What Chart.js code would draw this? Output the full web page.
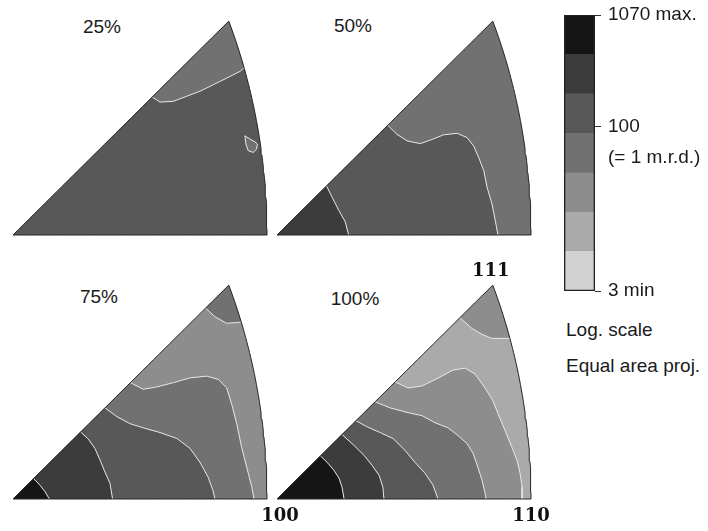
<!DOCTYPE html>
<html>
<head>
<meta charset="utf-8">
<script src="https://cdn.jsdelivr.net/npm/chart.js@4.4.1/dist/chart.umd.min.js"></script>
<style>
  html, body { margin: 0; padding: 0; background: #fff; }
  #fig { position: relative; width: 708px; height: 531px; overflow: hidden; background: #fff;
         font-family: "Liberation Sans", Arial, sans-serif; color: #1a1a1a; }
  #fig canvas { position: absolute; }
  .txt { position: absolute; font-size: 19px; line-height: 1; white-space: nowrap; transform: translateY(-50%); }
  .title { transform: translate(-50%, -50%); }
</style>
</head>
<body>
<div id="fig">
  <div class="txt title" style="left:102px; top:26px;">25%</div>
  <div class="txt title" style="left:353px; top:25px;">50%</div>
  <div class="txt title" style="left:99px; top:296px;">75%</div>
  <div class="txt title" style="left:355px; top:298px;">100%</div>
  <div class="txt" style="left:566px; top:329px;">Log. scale</div>
  <div class="txt" style="left:566px; top:365px;">Equal area proj.</div>
</div>
<script>
// ---- density scale (multiples of random, x100) ----
const levelColors = ['#d2d2d2', '#aaaaaa', '#8d8d8d', '#717171', '#585858', '#3c3c3c', '#151515'];
const levelBounds = [3, 7, 16, 37, 86, 200, 462, 1070];
const scaleTicks = [3, 100, 1070];

// ---- pole labels of the standard triangle ----
const poleNames = ['100', '110', '111'];
const poleDirections = [[1, 0, 0], [1, 1, 0], [1, 1, 1]];

// ---- contour lines, equal-area coordinates (110 pole at x = 1) ----
// 25 % deformation
const c25Top = [[0.548, 0.548], [0.579, 0.528], [0.631, 0.531], [0.684, 0.551], [0.736, 0.571],
                [0.789, 0.597], [0.841, 0.623], [0.894, 0.650], [0.910, 0.664]];
const c25Island = [[0.913, 0.394], [0.933, 0.381], [0.953, 0.370], [0.962, 0.361],
                   [0.959, 0.341], [0.946, 0.328], [0.926, 0.335], [0.917, 0.361]];
// 50 % deformation
const c50A = [[0.195, 0.195], [0.217, 0.150], [0.243, 0.098], [0.269, 0.052], [0.282, 0]];
const c50B = [[0.436, 0.436], [0.472, 0.400], [0.512, 0.374], [0.564, 0.363], [0.604, 0.377],
              [0.656, 0.398], [0.709, 0.404], [0.748, 0.387], [0.774, 0.354], [0.794, 0.308],
              [0.814, 0.256], [0.827, 0.190], [0.846, 0.125], [0.859, 0.059], [0.870, 0]];
// 75 % deformation
const c75A = [[0.081, 0.081], [0.106, 0.055], [0.126, 0.029], [0.143, 0]];
const c75B = [[0.266, 0.266], [0.296, 0.239], [0.323, 0.200], [0.343, 0.154], [0.362, 0.107],
              [0.382, 0.062], [0.392, 0]];
const c75C = [[0.362, 0.362], [0.409, 0.327], [0.461, 0.299], [0.512, 0.283], [0.579, 0.264],
              [0.646, 0.240], [0.697, 0.201], [0.736, 0.146], [0.768, 0.087], [0.787, 0.035], [0.795, 0]];
const c75D = [[0.462, 0.462], [0.513, 0.436], [0.566, 0.445], [0.631, 0.462], [0.697, 0.481],
              [0.763, 0.488], [0.808, 0.475], [0.841, 0.442], [0.861, 0.377], [0.881, 0.298],
              [0.900, 0.206], [0.920, 0.127], [0.940, 0.048], [0.949, 0]];
const c75Top = [[0.758, 0.758], [0.795, 0.724], [0.841, 0.698], [0.870, 0.700], [0.896, 0.702]];
// 100 % deformation
const c100A = [[0.171, 0.171], [0.197, 0.146], [0.224, 0.114], [0.244, 0.083], [0.256, 0.047], [0.264, 0]];
const c100B = [[0.256, 0.256], [0.303, 0.213], [0.343, 0.173], [0.374, 0.134], [0.402, 0.094],
               [0.417, 0.047], [0.421, 0]];
const c100C = [[0.311, 0.311], [0.354, 0.287], [0.406, 0.264], [0.457, 0.240], [0.504, 0.193],
               [0.543, 0.146], [0.583, 0.102], [0.614, 0.055], [0.634, 0]];
const c100D = [[0.386, 0.386], [0.445, 0.362], [0.516, 0.343], [0.571, 0.331], [0.622, 0.303],
               [0.673, 0.283], [0.713, 0.252], [0.748, 0.220], [0.772, 0.181], [0.791, 0.126],
               [0.807, 0.075], [0.819, 0.024], [0.823, 0]];
const c100E = [[0.465, 0.465], [0.516, 0.441], [0.571, 0.449], [0.634, 0.480], [0.693, 0.512],
               [0.740, 0.520], [0.780, 0.496], [0.819, 0.441], [0.850, 0.390], [0.870, 0.339],
               [0.898, 0.272], [0.925, 0.205], [0.945, 0.154], [0.957, 0.102], [0.965, 0.047], [0.965, 0]];
const c100F = [[0.720, 0.720], [0.768, 0.677], [0.807, 0.654], [0.846, 0.638], [0.886, 0.638], [0.917, 0.638]];

// Each panel: background level, then areas [contour, level, side holding the 100 pole?]
const panelSpecs = [
  { base: 4, areas: [[c25Top, 3, false]], islands: [[c25Island, 3]], lines: [c25Top] },
  { base: 3, areas: [[c50B, 4, true], [c50A, 5, true]], islands: [], lines: [c50B, c50A] },
  { base: 2, areas: [[c75Top, 3, false], [c75D, 3, true], [c75C, 4, true], [c75B, 5, true], [c75A, 6, true]],
    islands: [], lines: [c75Top, c75D, c75C, c75B, c75A] },
  { base: 1, areas: [[c100F, 2, false], [c100E, 2, true], [c100D, 3, true], [c100C, 4, true], [c100B, 5, true], [c100A, 6, true]],
    islands: [], lines: [c100F, c100E, c100D, c100C, c100B, c100A] }
];

// ---- layout ----
const panelOrigins = [[13, 235], [277, 235], [13, 499], [277, 499]];
const AREA_W = 254, AREA_H = 214, PAD = 30;
const CONTOUR = '#e9e9e9', OUTLINE = '#262626';

// ---- equal-area projection of cubic directions, [100] at the centre ----
const R110 = 2 * Math.sin(Math.PI / 8);
function project(d) {
  const n = Math.hypot(d[0], d[1], d[2]);
  const r = Math.sqrt(2 * (1 - d[0] / n)) / R110;
  const rho = Math.hypot(d[1], d[2]);
  if (rho === 0) return [0, 0];
  return [r * d[1] / rho, r * d[2] / rho];
}
const P111 = project([1, 1, 1]);
const R111 = Math.hypot(P111[0], P111[1]);

// boundary parameter: 0..1 edge 100-110, 1..2 arc 110-111, 2..3 edge 111-100
function boundaryPoint(s) {
  s = ((s % 3) + 3) % 3;
  if (s <= 1) return [s, 0];
  if (s <= 2) return project([1, 1, s - 1]);
  const f = 3 - s;
  return [P111[0] * f, P111[1] * f];
}
function locate(p) {
  const [u, v] = p;
  const dBottom = Math.abs(v);
  const dDiag = Math.abs(v - u) / Math.SQRT2;
  const t = Math.max(0, Math.min(1, u > 0 ? v / u : 1));
  const a = project([1, 1, t]);
  const dArc = Math.hypot(u - a[0], v - a[1]);
  if (dBottom <= dDiag && dBottom <= dArc) return Math.max(0, Math.min(1, u));
  if (dArc <= dDiag) return 1 + t;
  return 2 + (1 - Math.min(1, Math.hypot(u, v) / R111));
}
function walk(s0, s1) {
  if (s1 <= s0) s1 += 3;
  const pts = [];
  for (let k = Math.floor(s0 * 40) + 1; k / 40 < s1; k++) pts.push(boundaryPoint(k / 40));
  pts.push(boundaryPoint(s1));
  return pts;
}
function sectorPolygon() {
  return [[0, 0]].concat(walk(0, 0));
}
function regionPolygon(line, toward100) {
  const pts = toward100 ? line.slice().reverse() : line.slice();
  const s0 = locate(pts[0]);
  const s1 = locate(pts[pts.length - 1]);
  return pts.concat(walk(s1, s0), [pts[0]]);
}
const toXY = pts => pts.map(([x, y]) => ({ x, y }));

function fillLayer(pts, color) {
  return { data: toXY(pts), fill: 'shape', backgroundColor: color, borderColor: 'rgba(0,0,0,0)',
           borderWidth: 0, pointRadius: 0, tension: 0, clip: false };
}
function strokeLayer(pts, color, width) {
  return { data: toXY(pts), fill: false, borderColor: color, borderWidth: width,
           pointRadius: 0, tension: 0, clip: false };
}

const poleLabelOffsets = [[3, 17], [0, 17], [-2, -14]];
const polePlugin = {
  id: 'poleLabels',
  afterDatasetsDraw(chart) {
    const { ctx } = chart;
    const x = chart.scales.x, y = chart.scales.y;
    ctx.save();
    ctx.font = 'bold 18px "DejaVu Serif", "Liberation Serif", serif';
    ctx.fillStyle = '#111';
    ctx.textAlign = 'center';
    ctx.textBaseline = 'middle';
    poleNames.forEach((name, i) => {
      const [u, v] = project(poleDirections[i]);
      const [dx, dy] = poleLabelOffsets[i];
      ctx.fillText(name, x.getPixelForValue(u) + dx, y.getPixelForValue(v) + dy);
    });
    ctx.restore();
  }
};

const fig = document.getElementById('fig');

function makePanel(spec, origin, withPoles) {
  const cv = document.createElement('canvas');
  cv.width = AREA_W + 2 * PAD;
  cv.height = AREA_H + 2 * PAD;
  cv.style.left = (origin[0] - PAD) + 'px';
  cv.style.top = (origin[1] - AREA_H - PAD) + 'px';
  fig.appendChild(cv);

  const sector = sectorPolygon();
  const layers = [fillLayer(sector, levelColors[spec.base])];
  spec.areas.forEach(([line, lvl, toward100]) => layers.push(fillLayer(regionPolygon(line, toward100), levelColors[lvl])));
  spec.islands.forEach(([loop, lvl]) => layers.push(fillLayer(loop.concat([loop[0]]), levelColors[lvl])));
  spec.lines.forEach(line => layers.push(strokeLayer(line, CONTOUR, 1)));
  spec.islands.forEach(([loop]) => layers.push(strokeLayer(loop.concat([loop[0]]), CONTOUR, 1)));
  layers.push(strokeLayer(sector, OUTLINE, 1));
  layers.forEach((d, i) => { d.order = layers.length - i; });

  new Chart(cv, {
    type: 'line',
    data: { datasets: layers },
    options: {
      responsive: false,
      animation: false,
      devicePixelRatio: 1,
      layout: { padding: PAD },
      plugins: { legend: { display: false }, tooltip: { enabled: false } },
      elements: { line: { borderJoinStyle: 'round' } },
      scales: {
        x: { type: 'linear', min: 0, max: 1, display: false },
        y: { type: 'linear', min: 0, max: 0.85, display: false }
      }
    },
    plugins: withPoles ? [polePlugin] : []
  });
}

panelSpecs.forEach((spec, i) => makePanel(spec, panelOrigins[i], i === 3));

// ---- colour key ----
const keyCanvas = document.createElement('canvas');
keyCanvas.width = 148;
keyCanvas.height = 350;
keyCanvas.style.left = '560px';
keyCanvas.style.top = '-20px';
fig.appendChild(keyCanvas);

const keyDatasets = levelColors.map((c, k) => ({
  data: [[levelBounds[k], levelBounds[k + 1]]],
  backgroundColor: c,
  borderWidth: 0,
  grouped: false,
  barPercentage: 1,
  categoryPercentage: 1,
  order: 2
}));
keyDatasets.push({
  data: [[levelBounds[0], levelBounds[levelBounds.length - 1]]],
  backgroundColor: 'rgba(0,0,0,0)',
  borderColor: '#222',
  borderWidth: 1,
  borderSkipped: false,
  grouped: false,
  barPercentage: 1,
  categoryPercentage: 1,
  order: 1
});

function keyLabel(v) {
  if (v === 1070) return '1070 max.';
  if (v === 100) return ['', '100', '(= 1 m.r.d.)'];
  if (v === 3) return '3 min';
  return '';
}

new Chart(keyCanvas, {
  type: 'bar',
  data: { labels: ['key'], datasets: keyDatasets },
  options: {
    responsive: false,
    animation: false,
    devicePixelRatio: 1,
    layout: { padding: { left: 4, right: 0, top: 35, bottom: 39 } },
    plugins: { legend: { display: false }, tooltip: { enabled: false } },
    scales: {
      x: { display: false },
      y: {
        type: 'logarithmic',
        position: 'right',
        min: levelBounds[0],
        max: levelBounds[levelBounds.length - 1],
        afterBuildTicks: axis => { axis.ticks = scaleTicks.map(value => ({ value })); },
        afterFit: axis => { axis.width = 113; },
        border: { display: false },
        grid: { drawOnChartArea: false, drawTicks: true, tickLength: 6, color: '#333', lineWidth: 1 },
        ticks: {
          autoSkip: false,
          padding: 7,
          color: '#1a1a1a',
          font: { family: '"Liberation Sans", Arial, sans-serif', size: 19, lineHeight: 1.63 },
          callback: v => keyLabel(v)
        }
      }
    }
  }
});
</script>
</body>
</html>
